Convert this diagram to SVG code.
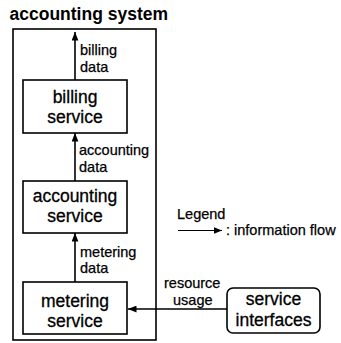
<svg xmlns="http://www.w3.org/2000/svg" width="341" height="343" viewBox="0 0 341 343">
  <style>
    .box { fill: #fff; stroke: #000; stroke-width: 1.6; }
    .flow { fill: none; stroke: #000; stroke-width: 1.6; marker-end: url(#head); }
    .flow-thin { fill: none; stroke: #000; stroke-width: 1.1; marker-end: url(#head-small); }
    .big { font-family: "Liberation Sans", Arial, sans-serif; font-size: 17.5px; text-anchor: middle; fill: #000; stroke: #000; stroke-width: 0.3; }
    .lbl { font-family: "Liberation Sans", Arial, sans-serif; font-size: 14.5px; fill: #000; stroke: #000; stroke-width: 0.25; }
    .title { font-family: "Liberation Sans", Arial, sans-serif; font-size: 17.5px; font-weight: bold; fill: #000; }
  </style>
  <defs>
    <marker id="head" viewBox="0 0 10 8" refX="10" refY="4" markerWidth="8.5" markerHeight="7" markerUnits="userSpaceOnUse" orient="auto">
      <path d="M0,0 L10,4 L0,8 Z" fill="#000"/>
    </marker>
    <marker id="head-small" viewBox="0 0 10 8" refX="10" refY="4" markerWidth="8" markerHeight="6.4" markerUnits="userSpaceOnUse" orient="auto">
      <path d="M0,0 L10,4 L0,8 Z" fill="#000"/>
    </marker>
  </defs>

  <rect fill="#fff" width="341" height="343"/>

  <!-- system boundary -->
  <g id="system">
    <text class="title" x="9.5" y="20">accounting system</text>
    <rect class="box" x="13" y="29" width="143" height="311"/>
  </g>

  <g id="billing">
    <rect class="box" x="23" y="80" width="104" height="53"/>
    <text class="big" x="75" y="103">billing</text>
    <text class="big" x="75" y="123">service</text>
  </g>

  <g id="accounting">
    <rect class="box" x="23" y="181" width="104" height="52"/>
    <text class="big" x="75" y="202">accounting</text>
    <text class="big" x="75" y="222">service</text>
  </g>

  <g id="metering">
    <rect class="box" x="23" y="282" width="104" height="52"/>
    <text class="big" x="75" y="307">metering</text>
    <text class="big" x="75" y="327">service</text>
  </g>

  <g id="interfaces">
    <rect class="box" x="227" y="288" width="93" height="45" rx="6" ry="6"/>
    <text class="big" x="273.5" y="305">service</text>
    <text class="big" x="273.5" y="326">interfaces</text>
  </g>

  <!-- information flows -->
  <g id="connectors">
    <line class="flow" x1="75" y1="80" x2="75" y2="32"/>
    <line class="flow" x1="75" y1="181" x2="75" y2="133"/>
    <line class="flow" x1="75" y1="282" x2="75" y2="233"/>
    <line class="flow" x1="227" y1="309" x2="128" y2="309"/>
    <text class="lbl" x="80" y="55">billing</text>
    <text class="lbl" x="80" y="72">data</text>
    <text class="lbl" x="79" y="155">accounting</text>
    <text class="lbl" x="79" y="172">data</text>
    <text class="lbl" x="80" y="257">metering</text>
    <text class="lbl" x="80" y="273">data</text>
    <text class="lbl" x="164" y="288">resource</text>
    <text class="lbl" x="173" y="305">usage</text>
  </g>

  <!-- legend -->
  <g id="legend">
    <text class="lbl" x="177" y="219">Legend</text>
    <line class="flow-thin" x1="178" y1="230.5" x2="222" y2="230.5"/>
    <text class="lbl" x="226" y="235">: information flow</text>
  </g>
</svg>
